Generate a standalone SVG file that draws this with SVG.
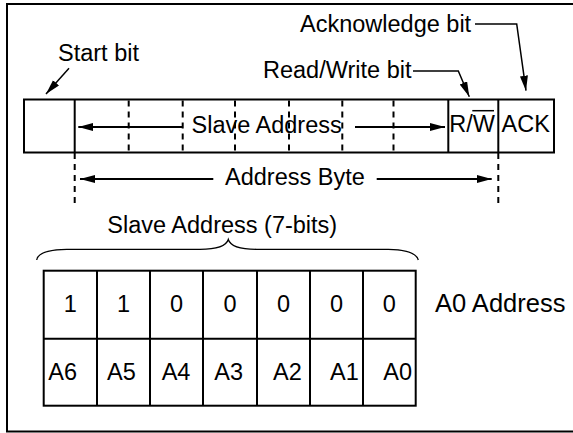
<svg xmlns="http://www.w3.org/2000/svg" width="573" height="433" viewBox="0 0 573 433">
<defs>
<style>
text{font-family:"Liberation Sans",Arial,sans-serif;font-size:23.5px;fill:#000}
.big{font-size:25.5px}
.ln{stroke:#000;stroke-width:2;fill:none}
.thin{stroke:#000;stroke-width:1.5;fill:none}
.dash{stroke:#000;stroke-width:2;stroke-dasharray:6 5;fill:none}
.mid{text-anchor:middle}
</style>
<marker id="ah" markerUnits="userSpaceOnUse" markerWidth="16" markerHeight="9" refX="15" refY="4" orient="auto">
<path d="M0,0 L15,4 L0,8 Z" fill="#000"/>
</marker>
</defs>
<rect x="7" y="4" width="580" height="427.5" class="ln"/>
<g id="start-bit-label">
<text x="58" y="61">Start bit</text>
</g>
<g id="ack-label">
<text x="300" y="32">Acknowledge bit</text>
</g>
<g id="rw-label">
<text x="263" y="78">Read/Write bit</text>
</g>
<g id="address-frame">
<rect x="24" y="99.5" width="530" height="53" class="ln"/>
<line x1="74.7" y1="99.5" x2="74.7" y2="152.5" class="ln"/>
<line x1="448.3" y1="99.5" x2="448.3" y2="152.5" class="ln"/>
<line x1="498.3" y1="99.5" x2="498.3" y2="152.5" class="ln"/>
<path d="M128.7,100.5V152 M182.7,100.5V152 M235,100.5V152 M289,100.5V152 M342.3,100.5V152 M393.5,100.5V152" class="dash"/>
<text x="191.5" y="133">Slave Address</text>
<text x="449.3" y="132">R/W</text>
<line x1="472.3" y1="110.7" x2="494" y2="110.7" stroke="#000" stroke-width="1.5"/>
<text x="501.5" y="132">ACK</text>
</g>
<g id="address-byte">
<path d="M74.7,153V203 M498.3,153V203" class="dash" stroke-dasharray="7 5"/>
<text x="225" y="185">Address Byte</text>
</g>
<g id="slave-address-7bits">
<text x="107.3" y="233">Slave Address (7-bits)</text>
<path d="M36.7,260 C38,252 50,249.5 66.7,249.3 L200,249.3 C215,249.3 226,247 228.3,239.5 C230.6,247 241,249.3 256.7,249.3 L388.3,249.3 C405,249.5 416,252 418.3,260" stroke="#000" stroke-width="1.3" fill="none"/>
</g>
<g id="bit-table">
<rect x="43.7" y="270.7" width="372" height="135" class="ln"/>
<line x1="43.7" y1="338.7" x2="415.7" y2="338.7" class="ln"/>
<path d="M97,270.7V405.7 M150,270.7V405.7 M203,270.7V405.7 M257,270.7V405.7 M310,270.7V405.7 M363,270.7V405.7" class="ln"/>
<text x="70.3" y="312" class="mid">1</text>
<text x="123.5" y="312" class="mid">1</text>
<text x="176.5" y="312" class="mid">0</text>
<text x="230" y="312" class="mid">0</text>
<text x="283.5" y="312" class="mid">0</text>
<text x="336.5" y="312" class="mid">0</text>
<text x="389.4" y="312" class="mid">0</text>
<text x="48.3" y="380">A6</text>
<text x="107" y="380">A5</text>
<text x="161.7" y="380">A4</text>
<text x="214.3" y="380">A3</text>
<text x="273" y="380">A2</text>
<text x="330" y="380">A1</text>
<text x="383.3" y="380">A0</text>
</g>
<g id="a0-address">
<text x="435" y="312" class="big">A0 Address</text>
</g>
<g id="connectors">
<line x1="69" y1="68.3" x2="46" y2="94" class="thin" marker-end="url(#ah)"/>
<polyline points="413,71 458.3,71 469.3,96.7" class="thin" marker-end="url(#ah)"/>
<polyline points="475,24 516.7,24 526,90.7" class="thin" marker-end="url(#ah)"/>
<line x1="182.7" y1="127" x2="78.3" y2="127" class="ln" marker-end="url(#ah)"/>
<line x1="355" y1="127" x2="445" y2="127" class="ln" marker-end="url(#ah)"/>
<line x1="213.3" y1="179" x2="80" y2="179" class="ln" marker-end="url(#ah)"/>
<line x1="376.7" y1="179" x2="491.7" y2="179" class="ln" marker-end="url(#ah)"/>
</g>
</svg>
